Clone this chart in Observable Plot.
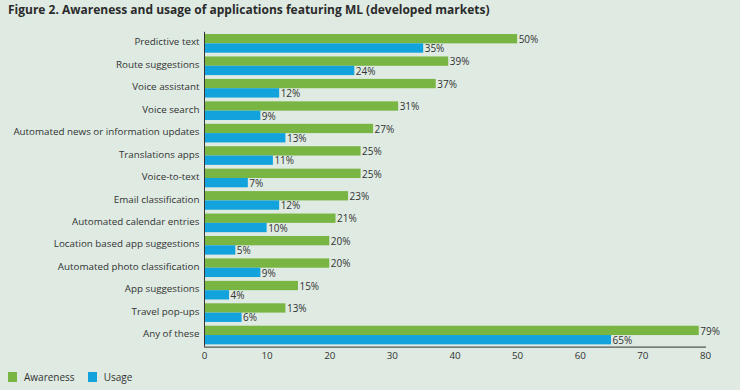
<!DOCTYPE html>
<html>
<head>
<meta charset="utf-8">
<script src="https://cdn.jsdelivr.net/npm/d3@7"></script>
<script src="https://cdn.jsdelivr.net/npm/@observablehq/plot@0.6"></script>
<style>
  html, body { margin: 0; padding: 0; background: #deeae2; }
  body { width: 740px; height: 390px; overflow: hidden; font-family: "Open Sans", sans-serif; color: #333; }
  #title { height: 24px; line-height: 20px; padding-left: 8px; font-size: 12px; font-weight: bold; color: #2b2b2b; white-space: nowrap; }
  #chart svg { display: block; background: transparent; }
  #legend { display: flex; align-items: center; padding-left: 8px; height: 16px; font-size: 10px; color: #333; }
  .sw { width: 9px; height: 10px; display: inline-block; margin-right: 7px; }
  .item { display: flex; align-items: center; margin-right: 13px; }
</style>
</head>
<body>
<div id="title">Figure 2. Awareness and usage of applications featuring ML (developed markets)</div>
<div id="chart"></div>
<div id="legend"></div>
<script>
const categories = [
  "Predictive text",
  "Route suggestions",
  "Voice assistant",
  "Voice search",
  "Automated news or information updates",
  "Translations apps",
  "Voice-to-text",
  "Email classification",
  "Automated calendar entries",
  "Location based app suggestions",
  "Automated photo classification",
  "App suggestions",
  "Travel pop-ups",
  "Any of these"
];
const awareness = [50, 39, 37, 31, 27, 25, 25, 23, 21, 20, 20, 15, 13, 79];
const usage     = [35, 24, 12, 9, 13, 11, 7, 12, 10, 5, 9, 4, 6, 65];
const seriesNames = ["Awareness", "Usage"];
const seriesColors = ["#79b543", "#12a2dc"];
const xTicks = [0, 10, 20, 30, 40, 50, 60, 70, 80];

const aData = categories.map((c, i) => ({category: c, value: awareness[i]}));
const uData = categories.map((c, i) => ({category: c, value: usage[i]}));

const H = 345;
const mTop = 7.8, mBottom = H - 322.6;
const step = (H - mTop - mBottom) / (categories.length - 0.17 + 0.2);
const half = step * (1 - 0.17) / 2;

const plot = Plot.plot({
  width: 740,
  height: H,
  marginLeft: 204,
  marginRight: 35,
  marginTop: mTop,
  marginBottom: mBottom,
  style: {background: "transparent", fontFamily: "Open Sans, sans-serif", fontSize: "9.8px", color: "#333"},
  x: {domain: [0, 80], ticks: xTicks, tickSize: 0, tickPadding: 5, label: null, line: true},
  y: {domain: categories, paddingInner: 0.17, paddingOuter: 0.1, round: false, axis: null},
  marks: [
    Plot.barX(aData, {x: "value", y: "category", fill: seriesColors[0], insetBottom: half}),
    Plot.barX(uData, {x: "value", y: "category", fill: seriesColors[1], insetTop: half}),
    Plot.text(aData, {x: "value", y: "category", text: d => d.value + "%", dx: 1, dy: -half / 2 + 0.5, textAnchor: "start", fill: "#333", fontSize: 10}),
    Plot.text(uData, {x: "value", y: "category", text: d => d.value + "%", dx: 1, dy: half / 2 + 0.5, textAnchor: "start", fill: "#333", fontSize: 10}),
    Plot.text(categories, {x: 0, y: d => d, text: d => d, dx: -5, dy: -1.5, textAnchor: "end", fill: "#333", fontSize: 9.8}),
    Plot.ruleX([0], {stroke: "#333", strokeWidth: 1})
  ]
});
document.getElementById("chart").appendChild(plot);

const legend = document.getElementById("legend");
seriesNames.forEach((n, i) => {
  const it = document.createElement("span");
  it.className = "item";
  it.innerHTML = `<span class="sw" style="background:${seriesColors[i]}"></span>${n}`;
  legend.appendChild(it);
});
</script>
</body>
</html>
